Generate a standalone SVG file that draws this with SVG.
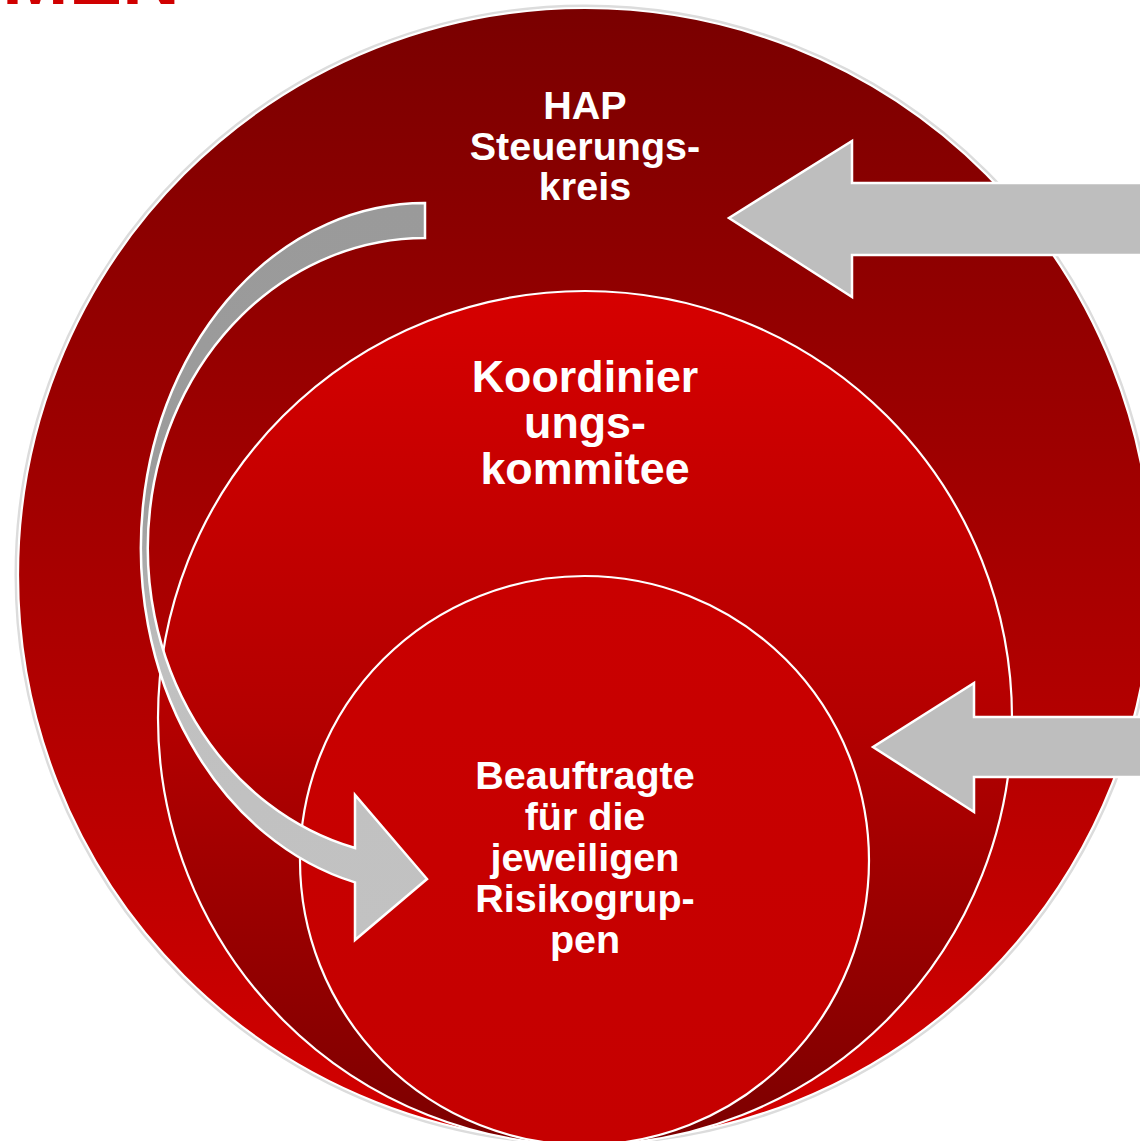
<svg xmlns="http://www.w3.org/2000/svg" width="1140" height="1141" viewBox="0 0 1140 1141">
<defs>
<linearGradient id="gOuter" x1="0" y1="8" x2="0" y2="1142" gradientUnits="userSpaceOnUse">
<stop offset="0" stop-color="#7a0000"/>
<stop offset="0.5" stop-color="#a80000"/>
<stop offset="1" stop-color="#d40000"/>
</linearGradient>
<linearGradient id="gMid" x1="0" y1="291" x2="0" y2="1145" gradientUnits="userSpaceOnUse">
<stop offset="0" stop-color="#d60000"/>
<stop offset="0.5" stop-color="#b40000"/>
<stop offset="1" stop-color="#7c0000"/>
</linearGradient>
<linearGradient id="gInner" x1="0" y1="576" x2="0" y2="1145" gradientUnits="userSpaceOnUse">
<stop offset="0" stop-color="#c90000"/>
<stop offset="1" stop-color="#c50000"/>
</linearGradient>
<linearGradient id="gCurve" x1="0" y1="203" x2="0" y2="940" gradientUnits="userSpaceOnUse">
<stop offset="0" stop-color="#9a9a9a"/>
<stop offset="0.4" stop-color="#9c9c9c"/>
<stop offset="0.62" stop-color="#c0c0c0"/>
<stop offset="1" stop-color="#c2c2c2"/>
</linearGradient>
</defs>
<style>
.halo{fill:none;stroke:#dcdcdc;stroke-width:5}
.ring{stroke:#ffffff;stroke-width:2.2}
.arrow{fill:#bebebe;stroke:#ffffff;stroke-width:2.5;stroke-linejoin:miter}
.lbl{font-family:"Liberation Sans",Arial,sans-serif;font-weight:bold;fill:#ffffff;text-anchor:middle}
.head{font-family:"Liberation Sans",Arial,sans-serif;font-weight:bold;fill:#d00000}
</style>
<rect width="1140" height="1141" fill="#ffffff"/>
<text class="head" x="2" y="4" font-size="80">MEN</text>

<g id="node-outer">
<circle class="halo" cx="585" cy="575" r="568"/>
<circle class="ring" cx="585" cy="575" r="567" fill="url(#gOuter)"/>
<text class="lbl" font-size="39.5"><tspan x="585" y="119">HAP</tspan><tspan x="585" y="160">Steuerungs-</tspan><tspan x="585" y="200">kreis</tspan></text>
</g>
<g id="node-middle">
<circle class="ring" cx="585" cy="718" r="427" fill="url(#gMid)"/>
<text class="lbl" font-size="44.8"><tspan x="585" y="392">Koordinier</tspan><tspan x="585" y="438">ungs-</tspan><tspan x="585" y="484">kommitee</tspan></text>
</g>
<g id="node-inner">
<circle class="ring" cx="584.5" cy="860.5" r="284.5" fill="url(#gInner)"/>
<text class="lbl" font-size="39.5"><tspan x="585" y="789">Beauftragte</tspan><tspan x="585" y="830">für die</tspan><tspan x="585" y="871">jeweiligen</tspan><tspan x="585" y="912">Risikogrup-</tspan><tspan x="585" y="953">pen</tspan></text>
</g>

<g id="connectors">
<path class="arrow" style="fill:url(#gCurve)" d="M425,203 A284,345 0 0 0 355,882.4 L355,940 L427,879 L355,795 L355,848 A277,310 0 0 1 425,238 Z"/>
<path class="arrow" d="M1160,183 L852,183 L852,141 L729,218 L852,297 L852,255 L1160,255"/>
<path class="arrow" d="M1160,717 L974,717 L974,683 L873,747 L974,812 L974,777 L1160,777"/>
</g>
</svg>
